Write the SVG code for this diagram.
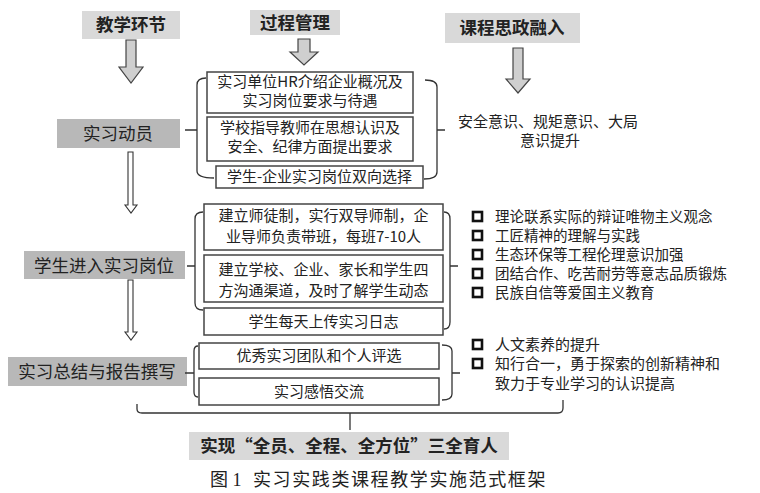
<svg xmlns="http://www.w3.org/2000/svg" width="760" height="493" viewBox="0 0 760 493">
<style>
text{font-family:"Noto Sans CJK SC","Noto Sans",sans-serif;fill:#222}
.hd{font-size:17.5px;font-weight:bold;text-anchor:middle}
.st{font-size:17.5px;text-anchor:middle}
.bx{font-size:15px;text-anchor:middle}
.li{font-size:15px}
.ls{font-size:14.5px}
.hbox{fill:#d9d9d9;stroke:none}
.sbox{fill:#b8b8b8;stroke:none}
.pbox{fill:#fff;stroke:#444;stroke-width:1.5}
.br{fill:none;stroke:#333;stroke-width:1.3}
.big{fill:#cfcfcf;stroke:#444;stroke-width:1.2}
.thin{fill:#fff;stroke:#333;stroke-width:1.1}
.sq{fill:#fff;stroke:#111;stroke-width:2.6}
</style>
<rect width="760" height="493" fill="#fff"/>

<g id="h1"><rect class="hbox" x="82" y="11" width="98" height="28"/><text class="hd" x="131" y="31">教学环节</text></g>
<g id="h2"><rect class="hbox" x="250" y="10" width="90" height="25"/><text class="hd" x="295" y="29">过程管理</text></g>
<g id="h3"><rect class="hbox" x="445" y="13" width="135" height="30"/><text class="hd" x="512" y="34">课程思政融入</text></g>

<g id="s1"><rect class="sbox" x="57" y="119" width="123" height="29"/><text class="st" x="118" y="140">实习动员</text></g>
<g id="s2"><rect class="sbox" x="24" y="251" width="161" height="28"/><text class="st" x="104" y="272">学生进入实习岗位</text></g>
<g id="s3"><rect class="sbox" x="8" y="357" width="179" height="29"/><text class="st" x="97" y="378">实习总结与报告撰写</text></g>

<g id="p1"><rect class="pbox" x="207" y="72" width="206" height="41"/><text class="bx" x="310" y="87">实习单位HR介绍企业概况及</text><text class="bx" x="310" y="106">实习岗位要求与待遇</text></g>
<g id="p2"><rect class="pbox" x="207" y="117" width="206" height="44"/><text class="bx" x="310" y="133">学校指导教师在思想认识及</text><text class="bx" x="310" y="152">安全、纪律方面提出要求</text></g>
<g id="p3"><rect class="pbox" x="216" y="166" width="207" height="22"/><text class="bx" x="319.5" y="182">学生-企业实习岗位双向选择</text></g>

<g id="p4"><rect class="pbox" x="204" y="204" width="239" height="46"/><text class="bx" x="323.5" y="221">建立师徒制，实行双导师制，企</text><text class="bx" x="323.5" y="242">业导师负责带班，每班7-10人</text></g>
<g id="p5"><rect class="pbox" x="204" y="255" width="239" height="47"/><text class="bx" x="323.5" y="275">建立学校、企业、家长和学生四</text><text class="bx" x="323.5" y="296">方沟通渠道，及时了解学生动态</text></g>
<g id="p6"><rect class="pbox" x="204" y="308" width="239" height="27"/><text class="bx" x="323.5" y="327">学生每天上传实习日志</text></g>

<g id="p7"><rect class="pbox" x="199" y="343" width="240" height="26"/><text class="bx" x="319" y="361">优秀实习团队和个人评选</text></g>
<g id="p8"><rect class="pbox" x="199" y="378" width="240" height="27"/><text class="bx" x="319" y="397">实习感悟交流</text></g>

<g id="r1"><text class="li" x="458" y="127">安全意识、规矩意识、大局</text><text class="li" x="550" y="146" text-anchor="middle">意识提升</text></g>

<g id="r2">
<rect class="sq" x="473" y="212" width="9" height="9"/><text class="ls" x="495" y="222">理论联系实际的辩证唯物主义观念</text>
<rect class="sq" x="473" y="231" width="9" height="9"/><text class="ls" x="495" y="241">工匠精神的理解与实践</text>
<rect class="sq" x="473" y="250" width="9" height="9"/><text class="ls" x="495" y="260">生态环保等工程伦理意识加强</text>
<rect class="sq" x="473" y="269" width="9" height="9"/><text class="ls" x="495" y="279">团结合作、吃苦耐劳等意志品质锻炼</text>
<rect class="sq" x="473" y="288" width="9" height="9"/><text class="ls" x="495" y="298">民族自信等爱国主义教育</text>
</g>

<g id="r3">
<rect class="sq" x="473" y="340" width="9" height="9"/><text class="li" x="495" y="350">人文素养的提升</text>
<rect class="sq" x="473" y="359" width="9" height="9"/><text class="li" x="495" y="369">知行合一，勇于探索的创新精神和</text>
<text class="li" x="495" y="389">致力于专业学习的认识提高</text>
</g>

<g id="goal"><rect class="hbox" x="189" y="432" width="320" height="28"/><text class="hd" x="349" y="452">实现“全员、全程、全方位”三全育人</text></g>

<g id="caption"><text x="210" y="486" style="font-family:'Liberation Serif','Noto Sans CJK SC',serif;font-size:18px">图 1</text><text x="253" y="486" style="font-family:'Liberation Serif','Noto Sans CJK SC',serif;font-size:18px;letter-spacing:1.6px">实习实践类课程教学实施范式框架</text></g>

<g id="connectors">
<path class="big" d="M126,40 H136 V67 H143 L131,83 L119,67 H126 Z"/>
<path class="big" d="M298,39 H310 V52 H318 L304,65 L290,52 H298 Z"/>
<path class="big" d="M513,48 H523 V79 H530 L518,93 L506,79 H513 Z"/>
<path class="thin" d="M128,152 H133 V205 H137 L131,213 L125,205 H128 Z"/>
<path class="thin" d="M128,280 H133 V332 H137 L131,340 L125,332 H128 Z"/>
<path class="br" d="M206,78 Q197,78 197,85 V171 Q197,178 214,178 M185,130 H197"/>
<path class="br" d="M425,80 Q437,80 437,87 V172 Q437,179 424,179 M437,130 H445"/>
<path class="br" d="M203,212 Q195,212 195,219 V303 Q195,310 203,310 M187,266 H195"/>
<path class="br" d="M444,212 Q450,212 450,219 V322 Q450,329 444,329 M450,266 H458"/>
<path class="br" d="M198,346 Q194,346 194,351 V392 Q194,397 198,397 M185,373 H194"/>
<path class="br" d="M442,345 Q452,345 452,351 V394 Q452,400 442,400 M452,373 H460"/>
<path class="br" d="M137,404 V409 Q137,413 142,413 H558 Q563,413 563,408 V400 M350,413 V430"/>
</g>
</svg>
